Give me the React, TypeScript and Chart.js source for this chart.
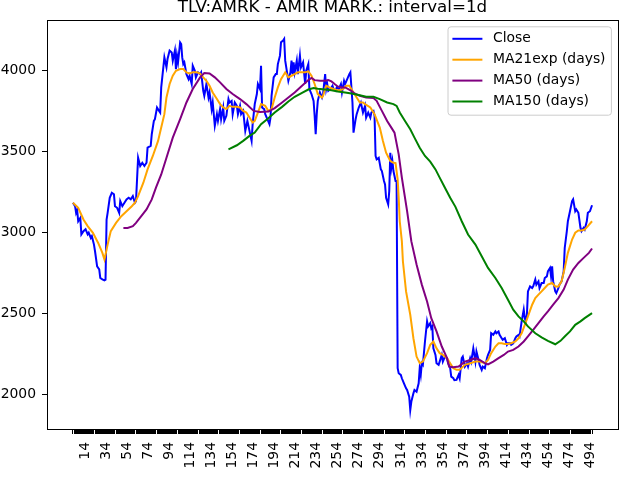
import { useEffect, useRef } from 'react';
import { Chart, registerables } from 'chart.js';

Chart.register(...registerables);

const TITLE = 'TLV:AMRK - AMIR MARK.: interval=1d';
const FONT = "'DejaVu Sans', sans-serif";

// x axis: one tick per trading day, labels every 20 days
const LAST_INDEX = 494;
const X_TICK_LABELS = [14, 34, 54, 74, 94, 114, 134, 154, 174, 194, 214, 234, 254, 274, 294, 314, 334, 354, 374, 394, 414, 434, 454, 474, 494];
const Y_TICKS = [2000, 2500, 3000, 3500, 4000];

// Close (index -> price)
const closeIdx = [
  0, 2, 3, 4, 5, 7, 8, 10, 12, 14, 15, 17, 18, 20, 21, 23, 25, 26, 28, 30, 31, 32, 33, 35, 37, 39, 40, 42, 44, 45,
  47, 49, 51, 53, 55, 57, 59, 60, 62, 64, 66, 68, 70, 71, 74, 75, 77, 78, 80, 82, 83, 84, 86, 87, 89, 90, 92, 94, 95, 97,
  98, 99, 100, 102, 103, 104, 105, 106, 108, 110, 111, 113, 114, 116, 117, 119, 121, 122, 124, 125, 127, 129, 130, 132, 133, 135, 137, 138, 140, 141,
  143, 144, 146, 148, 149, 151, 152, 154, 156, 157, 159, 160, 162, 164, 166, 168, 170, 171, 173, 175, 176, 178, 179, 180, 182, 183, 185, 187, 188, 189,
  191, 193, 194, 195, 197, 198, 200, 201, 202, 204, 205, 207, 208, 209, 210, 211, 213, 214, 216, 217, 219, 221, 222, 224, 225, 227, 229, 230, 231, 232,
  233, 235, 237, 238, 240, 241, 242, 243, 245, 247, 248, 250, 251, 253, 255, 256, 258, 259, 261, 263, 264, 266, 267, 269, 270, 272, 274, 276, 278, 279,
  281, 283, 284, 286, 287, 288, 289, 291, 293, 294, 296, 297, 298, 300, 301, 302, 303, 304, 305, 307, 308, 309, 310, 312, 313, 315, 317, 318, 320, 321,
  322, 324, 325, 327, 329, 330, 331, 332, 333, 335, 337, 338, 340, 341, 342, 343, 345, 346, 348, 349, 351, 352, 354, 356, 357, 359, 360, 362, 363, 365,
  367, 368, 370, 371, 373, 375, 376, 378, 379, 381, 383, 384, 386, 387, 389, 390, 392, 394, 395, 397, 398, 400, 402, 403, 405, 406, 408, 409, 411, 413,
  414, 416, 417, 419, 421, 422, 424, 425, 427, 429, 430, 431, 432, 433, 435, 437, 438, 440, 441, 443, 444, 446, 448, 449, 451, 452, 454, 455, 456, 457,
  459, 460, 462, 463, 465, 467, 468, 470, 471, 473, 475, 476, 478, 479, 481, 483, 484, 486, 487, 489, 490, 492, 494,
];
const closeVal = [
  3185, 3164, 3123, 3140, 3071, 3092, 2990, 3010, 3022, 2990, 3000, 2968, 2979, 2927, 2886, 2793, 2774, 2721, 2712, 2706, 2710, 3082, 3123, 3216, 3247, 3238, 3164, 3154, 3123, 3195,
  3164, 3185, 3206, 3216, 3206, 3226, 3185, 3195, 3463, 3412, 3432, 3412, 3432, 3525, 3536, 3608, 3690, 3701, 3773, 3752, 3742, 3897, 4021, 4082, 4021, 4072, 4124, 4113, 4062, 4124,
  4010, 4093, 4052, 4175, 4165, 4082, 4041, 4052, 3979, 3948, 3969, 3918, 4031, 4000, 3959, 3990, 3979, 3990, 3876, 3845, 3918, 3835, 3866, 3763, 3804, 3660, 3732, 3691, 3763, 3701,
  3773, 3691, 3722, 3825, 3804, 3814, 3732, 3804, 3783, 3732, 3783, 3732, 3752, 3629, 3691, 3629, 3567, 3670, 3794, 3856, 3918, 3887, 4031, 3773, 3763, 3732, 3701, 3670, 3711, 3845,
  3959, 3979, 3979, 4041, 4093, 4175, 4186, 4196, 4062, 3979, 3938, 3990, 4062, 3979, 4052, 3990, 4062, 3979, 4093, 4021, 4052, 3918, 4000, 4041, 3887, 3856, 3814, 3722, 3608, 3732,
  3814, 3866, 3835, 3856, 3979, 3887, 3918, 3876, 3887, 3907, 3887, 3876, 3897, 3887, 3918, 3866, 3938, 3918, 3948, 3979, 3990, 3804, 3618, 3701, 3732, 3773, 3804, 3742, 3783, 3711,
  3742, 3711, 3742, 3752, 3722, 3474, 3453, 3463, 3391, 3381, 3319, 3298, 3216, 3175, 3257, 3494, 3401, 3443, 3381, 3319, 3319, 2164, 2133, 2123, 2102, 2071, 2040, 2030, 1988, 1906,
  1957, 2009, 2030, 2019, 2071, 2164, 2123, 2195, 2185, 2329, 2453, 2422, 2442, 2411, 2422, 2287, 2246, 2195, 2185, 2205, 2246, 2205, 2236, 2226, 2195, 2164, 2112, 2102, 2090, 2092,
  2123, 2102, 2226, 2236, 2174, 2195, 2174, 2226, 2205, 2287, 2205, 2267, 2215, 2185, 2154, 2174, 2164, 2226, 2246, 2277, 2380, 2370, 2391, 2380, 2391, 2370, 2349, 2339, 2349, 2308,
  2318, 2318, 2308, 2318, 2349, 2360, 2370, 2360, 2453, 2525, 2473, 2453, 2494, 2638, 2669, 2659, 2669, 2711, 2680, 2700, 2659, 2690, 2690, 2721, 2731, 2762, 2783, 2731, 2793, 2700,
  2638, 2628, 2659, 2680, 2700, 2762, 2906, 3010, 3071, 3133, 3195, 3206, 3133, 3144, 3123, 3030, 3010, 3030, 3020, 3071, 3123, 3133, 3170,
];

// MA21exp
const ma21Idx = [
  0, 5, 10, 14, 19, 24, 28, 30, 33, 36, 41, 46, 51, 56, 59, 62, 67, 71, 76, 81, 84, 87, 89, 92, 95, 98, 102, 105, 108, 111,
  114, 118, 121, 124, 127, 130, 133, 137, 140, 143, 146, 149, 152, 156, 159, 162, 165, 168, 171, 173, 176, 179, 183, 186, 189, 192, 195, 198, 202, 205,
  208, 211, 214, 218, 221, 224, 227, 230, 233, 237, 238, 241, 244, 248, 251, 254, 257, 260, 263, 267, 270, 273, 276, 278, 283, 287, 292, 295, 298, 302,
  305, 307, 309, 310, 311, 313, 314, 317, 321, 324, 327, 330, 333, 337, 340, 343, 346, 349, 352, 356, 359, 362, 365, 368, 373, 378, 383, 387, 392, 395,
  398, 402, 405, 408, 411, 414, 417, 421, 424, 427, 430, 433, 437, 440, 443, 446, 449, 452, 456, 459, 462, 465, 468, 471, 475, 478, 481, 484, 487, 490, 494,
];
const ma21Val = [
  3185, 3154, 3082, 3041, 3000, 2937, 2876, 2835, 2927, 3010, 3061, 3102, 3133, 3164, 3185, 3226, 3309, 3391, 3474, 3567, 3649, 3732, 3835, 3918, 3969, 4000, 4010, 4010, 3990, 3983,
  3990, 3990, 3983, 3959, 3938, 3907, 3866, 3825, 3794, 3773, 3763, 3783, 3777, 3777, 3773, 3752, 3742, 3711, 3680, 3690, 3742, 3794, 3783, 3752, 3763, 3835, 3897, 3948, 3990, 3959,
  3969, 3979, 3990, 3990, 3990, 3996, 3969, 3918, 3856, 3835, 3845, 3907, 3897, 3887, 3880, 3880, 3887, 3907, 3907, 3866, 3835, 3804, 3804, 3794, 3773, 3732, 3649, 3567, 3494, 3443,
  3432, 3430, 3330, 3216, 3071, 2948, 2824, 2638, 2494, 2349, 2236, 2195, 2205, 2257, 2308, 2329, 2287, 2257, 2246, 2226, 2195, 2164, 2154, 2154, 2185, 2195, 2205, 2205, 2195, 2215,
  2257, 2298, 2318, 2318, 2314, 2314, 2318, 2329, 2349, 2380, 2432, 2484, 2556, 2597, 2618, 2638, 2659, 2680, 2690, 2669, 2669, 2700, 2783, 2876, 2958, 3000, 3014, 3014, 3020, 3041, 3071,
];

// MA50
const ma50Idx = [
  48, 52, 57, 60, 65, 70, 75, 79, 84, 89, 95, 102, 108, 114, 121, 125, 130, 135, 140, 146, 152, 159, 165, 172, 178, 186, 192, 199, 205, 211,
  218, 224, 227, 230, 235, 240, 243, 246, 249, 252, 256, 259, 262, 265, 268, 273, 279, 286, 289, 294, 299, 303, 306, 310, 313, 318, 322, 327, 332, 337,
  341, 346, 351, 356, 358, 362, 367, 373, 378, 383, 387, 392, 395, 400, 405, 410, 414, 419, 424, 429, 433, 438, 443, 448, 452, 457, 462, 467, 471, 476,
  481, 486, 491, 494,
];
const ma50Val = [
  3030, 3030, 3041, 3061, 3102, 3144, 3206, 3278, 3360, 3463, 3587, 3701, 3804, 3887, 3959, 3986, 3983, 3959, 3928, 3887, 3856, 3825, 3794, 3752, 3746, 3748, 3769, 3804, 3835, 3866,
  3907, 3942, 3955, 3942, 3938, 3938, 3942, 3934, 3918, 3903, 3897, 3897, 3887, 3876, 3860, 3845, 3835, 3831, 3814, 3752, 3690, 3649, 3618, 3484, 3340, 3133, 2948, 2804, 2680, 2576,
  2473, 2391, 2298, 2226, 2174, 2170, 2175, 2205, 2215, 2226, 2215, 2195, 2188, 2205, 2226, 2246, 2267, 2277, 2298, 2329, 2360, 2401, 2442, 2484, 2515, 2556, 2597, 2649, 2711, 2773,
  2814, 2845, 2876, 2903,
];

// MA150
const ma150Idx = [
  148, 156, 162, 168, 173, 179, 186, 192, 199, 205, 211, 218, 224, 229, 233, 240, 246, 252, 259, 265, 272, 279, 286, 292, 299, 305, 308, 311, 316, 321,
  325, 330, 335, 340, 345, 349, 354, 359, 364, 370, 376, 383, 389, 395, 402, 408, 414, 419, 424, 429, 433, 440, 446, 452, 459, 464, 468, 473, 478, 483,
  487, 494,
];
const ma150Val = [
  3515, 3540, 3567, 3598, 3618, 3670, 3707, 3742, 3777, 3810, 3839, 3864, 3884, 3893, 3889, 3884, 3880, 3872, 3866, 3860, 3850, 3839, 3839, 3825, 3804, 3794, 3783, 3742, 3690, 3639,
  3587, 3525, 3474, 3439, 3391, 3340, 3278, 3216, 3160, 3071, 2989, 2927, 2855, 2783, 2721, 2659, 2587, 2525, 2484, 2453, 2422, 2380, 2354, 2333, 2312, 2333, 2360, 2391, 2432, 2453,
  2473, 2504,
];

const SERIES = [
  { label: 'Close', idx: closeIdx, val: closeVal, color: '#0000ff' },
  { label: 'MA21exp (days)', idx: ma21Idx, val: ma21Val, color: '#ffa500' },
  { label: 'MA50 (days)', idx: ma50Idx, val: ma50Val, color: '#800080' },
  { label: 'MA150 (days)', idx: ma150Idx, val: ma150Val, color: '#008000' },
];

// frame, legend box and title drawn the matplotlib way
const decorPlugin = {
  id: 'decor',
  afterDatasetsDraw(chart: any) {
    const { ctx, chartArea } = chart;
    const { left, top, right, bottom } = chartArea;
    ctx.save();
    // axes frame
    ctx.strokeStyle = '#000';
    ctx.lineWidth = 1;
    ctx.strokeRect(Math.round(left) + 0.5, Math.round(top) + 0.5, Math.round(right - left), Math.round(bottom - top));

    // legend
    const bw = 163.4;
    const bh = 88.4;
    const bx = right - 6.6 - bw;
    const by = top + 6.8;
    ctx.beginPath();
    ctx.roundRect(bx, by, bw, bh, 3);
    ctx.fillStyle = 'rgba(255,255,255,0.8)';
    ctx.fill();
    ctx.strokeStyle = '#cccccc';
    ctx.stroke();
    ctx.font = `13.9px ${FONT}`;
    ctx.textBaseline = 'middle';
    ctx.textAlign = 'left';
    SERIES.forEach((s, i) => {
      const ry = by + 12 + i * 20.9;
      ctx.beginPath();
      ctx.moveTo(bx + 4.4, ry);
      ctx.lineTo(bx + 34.4, ry);
      ctx.strokeStyle = s.color;
      ctx.lineWidth = 2;
      ctx.stroke();
      ctx.fillStyle = '#000';
      ctx.fillText(s.label, bx + 45, ry);
    });

    // title
    ctx.font = `16.7px ${FONT}`;
    ctx.textAlign = 'center';
    ctx.textBaseline = 'alphabetic';
    ctx.fillStyle = '#000';
    ctx.fillText(TITLE, (left + right) / 2, top - 8);
    ctx.restore();
  },
};

const App = () => {
  const canvasRef = useRef<HTMLCanvasElement | null>(null);
  const chartRef = useRef<Chart | null>(null);

  useEffect(() => {
    if (!canvasRef.current) return;
    if (chartRef.current) chartRef.current.destroy();

    const tickFont = { family: FONT, size: 13.9 };

    chartRef.current = new Chart(canvasRef.current, {
      type: 'line',
      data: {
        datasets: SERIES.map((s, i) => ({
          label: s.label,
          data: s.idx.map((x, k) => ({ x, y: s.val[k] })),
          borderColor: s.color,
          backgroundColor: s.color,
          borderWidth: 2,
          pointRadius: 0,
          tension: 0,
          fill: false,
          order: SERIES.length - i,
        })),
      },
      options: {
        responsive: false,
        animation: false,
        devicePixelRatio: 1,
        layout: { padding: { top: 20, right: 22, left: 0, bottom: 0 } },
        plugins: {
          legend: { display: false },
          tooltip: { enabled: false },
          title: { display: false },
        },
        scales: {
          x: {
            type: 'linear',
            bounds: 'data',
            min: -LAST_INDEX * 0.05,
            max: LAST_INDEX * 1.05,
            afterBuildTicks: (scale: any) => {
              const ticks = [];
              for (let v = 0; v <= LAST_INDEX; v++) ticks.push({ value: v });
              scale.ticks = ticks;
            },
            afterFit: (scale: any) => {
              scale.height = 51;
            },
            border: { display: false },
            grid: { drawOnChartArea: false, drawTicks: true, tickLength: 5, color: '#000', lineWidth: 1 },
            ticks: {
              autoSkip: false,
              minRotation: 90,
              maxRotation: 90,
              padding: 8,
              labelOffset: -2,
              color: '#000',
              font: tickFont,
              callback: (v: any) => (X_TICK_LABELS.includes(Number(v)) ? String(v) : ''),
            },
          },
          y: {
            type: 'linear',
            bounds: 'data',
            min: 1789,
            max: 4313,
            afterBuildTicks: (scale: any) => {
              scale.ticks = Y_TICKS.map((value) => ({ value }));
            },
            afterFit: (scale: any) => {
              scale.width = 47;
            },
            border: { display: false },
            grid: { drawOnChartArea: false, drawTicks: true, tickLength: 5, color: '#000', lineWidth: 1 },
            ticks: { padding: 6, color: '#000', font: tickFont, callback: (v: any) => String(v) },
          },
        },
      },
      plugins: [decorPlugin],
    });

    return () => {
      if (chartRef.current) {
        chartRef.current.destroy();
        chartRef.current = null;
      }
    };
  }, []);

  return (
    <div style={{ position: 'absolute', left: 0, top: 0, width: 640, height: 480, background: '#fff' }}>
      <canvas ref={canvasRef} width={640} height={480} style={{ display: 'block' }} />
    </div>
  );
};

export default App;
